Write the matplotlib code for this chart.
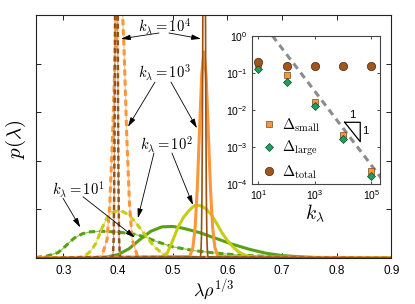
import numpy as np
import matplotlib
matplotlib.use("Agg")
import matplotlib.pyplot as plt

plt.rcParams['font.family'] = ['Liberation Sans', 'DejaVu Sans']
plt.rcParams['mathtext.fontset'] = 'cm'

# ---- main panel: p(lambda) curves ----
# k = 10
k1_small_x = [0.25, 0.27, 0.29, 0.30, 0.31, 0.32, 0.335, 0.35, 0.37, 0.39, 0.41, 0.43, 0.45, 0.47, 0.50, 0.54, 0.58, 0.62, 0.68, 0.75, 0.85, 0.90]
k1_small_y = [0.01, 0.04, 0.11, 0.20, 0.31, 0.41, 0.50, 0.54, 0.55, 0.54, 0.52, 0.49, 0.43, 0.34, 0.23, 0.15, 0.10, 0.06, 0.03, 0.01, 0.0, 0.0]
k1_large_x = [0.25, 0.36, 0.38, 0.40, 0.42, 0.44, 0.46, 0.48, 0.50, 0.52, 0.55, 0.58, 0.61, 0.64, 0.67, 0.70, 0.74, 0.78, 0.90]
k1_large_y = [0.0, 0.0, 0.02, 0.07, 0.19, 0.38, 0.55, 0.64, 0.65, 0.61, 0.52, 0.40, 0.28, 0.18, 0.10, 0.05, 0.02, 0.0, 0.0]
# k = 100
k2_small_x = [0.25, 0.33, 0.34, 0.35, 0.36, 0.37, 0.38, 0.39, 0.40, 0.41, 0.42, 0.43, 0.44, 0.45, 0.46, 0.47, 0.48, 0.49, 0.50, 0.90]
k2_small_y = [0.0, 0.01, 0.05, 0.14, 0.31, 0.60, 0.83, 0.94, 0.97, 0.95, 0.88, 0.76, 0.62, 0.47, 0.32, 0.20, 0.10, 0.04, 0.01, 0.0]
k2_large_x = [0.25, 0.47, 0.48, 0.49, 0.50, 0.51, 0.52, 0.53, 0.54, 0.55, 0.56, 0.57, 0.58, 0.59, 0.60, 0.61, 0.62, 0.63, 0.64, 0.66, 0.90]
k2_large_y = [0.0, 0.0, 0.03, 0.10, 0.36, 0.64, 0.84, 0.98, 1.08, 1.08, 1.02, 0.90, 0.72, 0.52, 0.36, 0.23, 0.13, 0.07, 0.03, 0.0, 0.0]
# k = 1000
k3_small_x = [0.25, 0.37, 0.38, 0.385, 0.39, 0.395, 0.40, 0.403, 0.406, 0.411, 0.416, 0.421, 0.426, 0.436, 0.90]
k3_small_y = [0.0, 0.02, 0.38, 1.1, 2.5, 4.3, 5.7, 6.0, 5.7, 4.3, 2.5, 1.1, 0.38, 0.02, 0.0]
k3_large_x = [0.25, 0.531, 0.537, 0.541, 0.545, 0.549, 0.553, 0.557, 0.561, 0.565, 0.569, 0.573, 0.577, 0.583, 0.90]
k3_large_y = [0.0, 0.03, 0.22, 0.63, 1.45, 2.63, 3.77, 4.24, 3.77, 2.63, 1.45, 0.63, 0.22, 0.03, 0.0]
# k = 10^4
k4_small_x = [0.25, 0.390, 0.391, 0.392, 0.393, 0.394, 0.395, 0.396, 0.397, 0.398, 0.399, 0.400, 0.401, 0.402, 0.403, 0.404, 0.90]
k4_small_y = [0.0, 0.02, 0.1, 0.4, 1.3, 3.2, 6.5, 11.0, 14.0, 11.0, 6.5, 3.2, 1.3, 0.4, 0.1, 0.02, 0.0]
k4_large_x = [0.25, 0.5505, 0.5515, 0.5525, 0.5535, 0.5545, 0.5555, 0.5565, 0.5575, 0.5585, 0.5595, 0.5605, 0.5615, 0.5625, 0.5635, 0.5645, 0.90]
k4_large_y = [0.0, 0.02, 0.1, 0.4, 1.3, 3.2, 6.5, 11.0, 14.0, 11.0, 6.5, 3.2, 1.3, 0.4, 0.1, 0.02, 0.0]

# ---- inset: deviations vs k ----
k_vals = [10, 100, 1000, 1e4, 1e5]
d_small = [0.18, 0.089, 0.0168, 0.0021, 0.000224]
d_large = [0.128, 0.057, 0.0131, 0.0016, 0.000165]
d_total = [0.195, 0.158, 0.158, 0.158, 0.158]
guide_k = [10, 1e6]
guide_y = [3.2, 3.2e-5]
tri_k = [10**4.053, 10**4.604, 10**4.604, 10**4.053]
tri_y = [10**-2.332, 10**-2.332, 10**-2.857, 10**-2.332]

c_green = '#58a014'
c_green_l = '#93c95a'
c_yel = '#c8cd14'
c_yel_l = '#dfe27a'
c_org = '#fa963c'
c_org_l = '#fcc48e'
c_brn = '#985216'
c_brn_l = '#c79a6e'

fig = plt.figure(figsize=(4.15, 3.04), dpi=100)
ax = fig.add_axes([0.0867, 0.1513, 0.8566, 0.7993])

dash = (0, (2.0, 1.3))
curves = [
    (k1_small_x, k1_small_y, k1_large_x, k1_large_y, c_green, c_green_l, 2.2),
    (k2_small_x, k2_small_y, k2_large_x, k2_large_y, c_yel, c_yel_l, 2.2),
    (k3_small_x, k3_small_y, k3_large_x, k3_large_y, c_org, c_org_l, 2.2),
    (k4_small_x, k4_small_y, k4_large_x, k4_large_y, c_brn, c_brn_l, 1.2),
]
for sx, sy, lx, ly, c, cl, lw in curves:
    ax.plot(sx, sy, color=cl, lw=0.9)
    ax.plot(sx, sy, color=c, lw=max(lw, 1.8), ls=dash)
    ax.plot(lx, ly, color=c, lw=lw)

ax.set_xlim(0.25, 0.9)
ax.set_ylim(0, 5)
ax.set_xticks([0.3, 0.4, 0.5, 0.6, 0.7, 0.8, 0.9])
ax.set_yticks([0, 1, 2, 3, 4, 5])
ax.set_yticklabels([])
ax.tick_params(direction='in', top=True, right=True, length=3.5, width=0.6,
               labelsize=8.5, pad=5)
for s in ax.spines.values():
    s.set_linewidth(0.8)
    s.set_color('#222222')
ax.set_xlabel(r'$\lambda\rho^{1/3}$', fontsize=13, va='bottom')
ax.xaxis.set_label_coords(0.5, -0.184)
ax.set_ylabel(r'$p(\lambda)$', fontsize=15)
ax.yaxis.set_label_coords(-0.022, 0.49)

# annotations
akw = dict(arrowstyle='-|>,head_length=0.7,head_width=0.2', color='k', lw=0.6,
           shrinkA=0, shrinkB=0, mutation_scale=8)
labels = [
    (r'$k_\lambda=10^4$', 0.485, 4.77, [((0.4749, 4.63), (0.4054, 4.51)), ((0.4931, 4.63), (0.5516, 4.51))]),
    (r'$k_\lambda=10^3$', 0.485, 3.83, [((0.4676, 3.62), (0.4182, 2.70)), ((0.4968, 3.62), (0.5443, 2.67))]),
    (r'$k_\lambda=10^2$', 0.4877, 2.35, [((0.4657, 2.16), (0.4363, 0.82)), ((0.4986, 2.16), (0.537, 1.09))]),
    (r'$k_\lambda=10^1$', 0.3268, 1.42, [((0.2994, 1.23), (0.331, 0.63)), ((0.336, 1.26), (0.431, 0.42))]),
]
for txt, tx, ty, arrows in labels:
    ax.text(tx, ty, txt, fontsize=10.5, ha='center', va='center')
    for start, head in arrows:
        ax.annotate('', xy=head, xytext=start, arrowprops=akw)

# inset
ins = fig.add_axes([0.6072, 0.3947, 0.3084, 0.4868])
ins.plot(guide_k, guide_y, color='#8c8c8c', lw=2.2, ls=(0, (2.2, 1.6)))
ins.plot(tri_k, tri_y, color='k', lw=0.9)
ins.text(10**4.32, 10**-2.135, '1', fontsize=8, ha='center', va='center')
ins.text(10**4.79, 10**-2.56, '1', fontsize=8, ha='center', va='center')
ins.plot(k_vals, d_small, 's', ms=5, mfc=c_org, mec='#6b4a2a', mew=0.5,
         ls='none', label=r'$\Delta_{\rm small}$')
ins.plot(k_vals, d_large, 'D', ms=4.5, mfc='#1fa062', mec='#0d4a2a', mew=0.5,
         ls='none', label=r'$\Delta_{\rm large}$')
ins.plot(k_vals, d_total, 'o', ms=6, mfc='#a0561e', mec='#4a2a10', mew=0.5,
         ls='none', label=r'$\Delta_{\rm total}$')
ins.set_xscale('log')
ins.set_yscale('log')
ins.set_xlim(6, 2e5)
ins.set_ylim(1e-4, 1)
ins.set_xticks([10, 1e3, 1e5])
ins.set_yticks([1e-4, 1e-3, 1e-2, 1e-1, 1])
ins.minorticks_off()
ins.tick_params(direction='in', top=True, right=True, length=2.5, width=0.5,
                labelsize=7.5, pad=3)
for s in ins.spines.values():
    s.set_linewidth(0.8)
    s.set_color('#444444')
ins.set_xlabel(r'$k_\lambda$', fontsize=14)
ins.xaxis.set_label_coords(0.49, -0.125)
ins.legend(loc='lower left', bbox_to_anchor=(0.09, 0.02), frameon=False,
           fontsize=10.5, handlelength=0.8, handletextpad=0.5,
           labelspacing=0.35, borderpad=0, borderaxespad=0)

fig.savefig('out.png', dpi=100)
